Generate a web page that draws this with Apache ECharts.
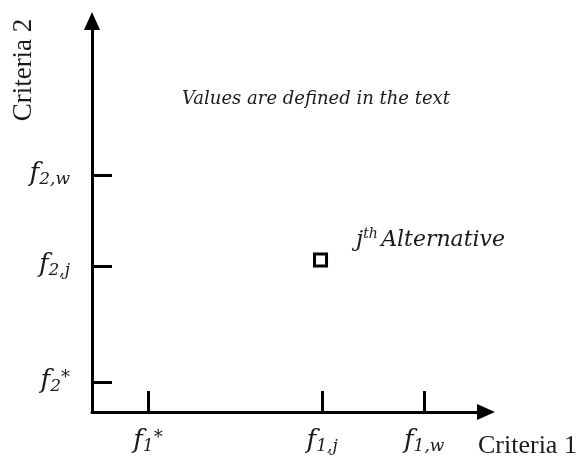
<!DOCTYPE html>
<html>
<head>
<meta charset="utf-8">
<script src="https://cdn.jsdelivr.net/npm/echarts@6/dist/echarts.min.js"></script>
<style>
  html, body { margin: 0; padding: 0; background: #fff; }
  #chart { width: 578px; height: 465px; }
</style>
</head>
<body>
<div id="chart"></div>
<script>
// tick positions on both criteria (axis runs 0..100)
const xTickValues = [14.2, 58.4, 84.3];
const xTickSubs = ['1', '1,j', '1,w'];
const xTickStars = [true, false, false];
const yTickValues = [7.7, 37.3, 60.6];
const yTickSubs = ['2', '2,j', '2,w'];
const yTickStars = [true, false, false];
// the j-th alternative
const altPoint = [58.0, 38.9];

const ink = '#000';
const textInk = '#1a1a1a';

// f with subscript (and star) as rich text
const richF = {
  f: { fontFamily: 'DejaVu Serif', fontStyle: 'italic', fontSize: 26, lineHeight: 26, padding: [0, 0, 2, 0], color: textInk },
  sub: { fontFamily: 'DejaVu Serif', fontStyle: 'italic', fontSize: 17, lineHeight: 17, verticalAlign: 'bottom', color: textInk },
  sup: { fontFamily: 'DejaVu Serif', fontSize: 18, lineHeight: 10, verticalAlign: 'top', color: textInk }
};

function tickLabel(values, subs, stars) {
  return function (val) {
    let i = values.findIndex(v => Math.abs(v - val) < 1e-6);
    if (i < 0) return '';
    return '{f|f}{sub|' + subs[i] + '}' + (stars[i] ? '{sup|*}' : '');
  };
}

const myChart = echarts.init(document.getElementById('chart'));
const option = {
  animation: false,
  grid: { left: 92, right: 92, top: 21, bottom: 53, outerBoundsMode: 'none' },
  title: {
    text: 'Values are defined in the text',
    left: 182, top: 90, padding: 0,
    textStyle: { fontFamily: 'DejaVu Serif', fontStyle: 'italic', fontWeight: 'normal', fontSize: 18, color: textInk }
  },
  xAxis: {
    type: 'value', min: 0, max: 100,
    axisLine: { show: true, onZero: false, symbol: ['none', 'triangle'], symbolSize: [16, 18], lineStyle: { color: ink, width: 3 } },
    axisTick: { show: true, inside: true, length: 21, customValues: xTickValues, lineStyle: { color: ink, width: 3 } },
    axisLabel: { customValues: xTickValues, formatter: tickLabel(xTickValues, xTickSubs, xTickStars), margin: 17, rich: richF },
    splitLine: { show: false },
    name: 'Criteria 1', nameLocation: 'end', nameGap: -8,
    nameTextStyle: { fontFamily: 'Liberation Serif', fontSize: 26, color: textInk, align: 'left', verticalAlign: 'top', padding: [21, 0, 0, 0] }
  },
  yAxis: {
    type: 'value', min: 0, max: 100,
    axisLine: { show: true, onZero: false, symbol: ['none', 'triangle'], symbolSize: [16, 18], lineStyle: { color: ink, width: 3 } },
    axisTick: { show: true, inside: true, length: 20, customValues: yTickValues, lineStyle: { color: ink, width: 3 } },
    axisLabel: { customValues: yTickValues, formatter: tickLabel(yTickValues, yTickSubs, yTickStars), margin: 22, rich: richF },
    splitLine: { show: false }
  },
  graphic: [{
    type: 'text', x: 24, y: 70, rotation: Math.PI / 2,
    style: { text: 'Criteria 2', font: '27px "Liberation Serif"', fill: textInk, align: 'center', verticalAlign: 'middle' }
  }],
  series: [{
    type: 'scatter',
    silent: true,
    data: [altPoint],
    symbol: 'rect',
    symbolSize: 12,
    itemStyle: { color: '#fff', borderColor: ink, borderWidth: 3, opacity: 1 },
    label: {
      show: true, position: 'right', distance: 28, offset: [0, -20],
      formatter: '{j|j}{th|th} {a|Alternative}',
      rich: {
        j: { fontFamily: 'DejaVu Serif', fontStyle: 'italic', fontSize: 23, lineHeight: 26, color: textInk },
        th: { fontFamily: 'DejaVu Serif', fontStyle: 'italic', fontSize: 14, lineHeight: 12, verticalAlign: 'top', color: textInk },
        a: { fontFamily: 'DejaVu Serif', fontStyle: 'italic', fontSize: 22, lineHeight: 26, color: textInk }
      }
    }
  }]
};
myChart.setOption(option);
</script>
</body>
</html>
